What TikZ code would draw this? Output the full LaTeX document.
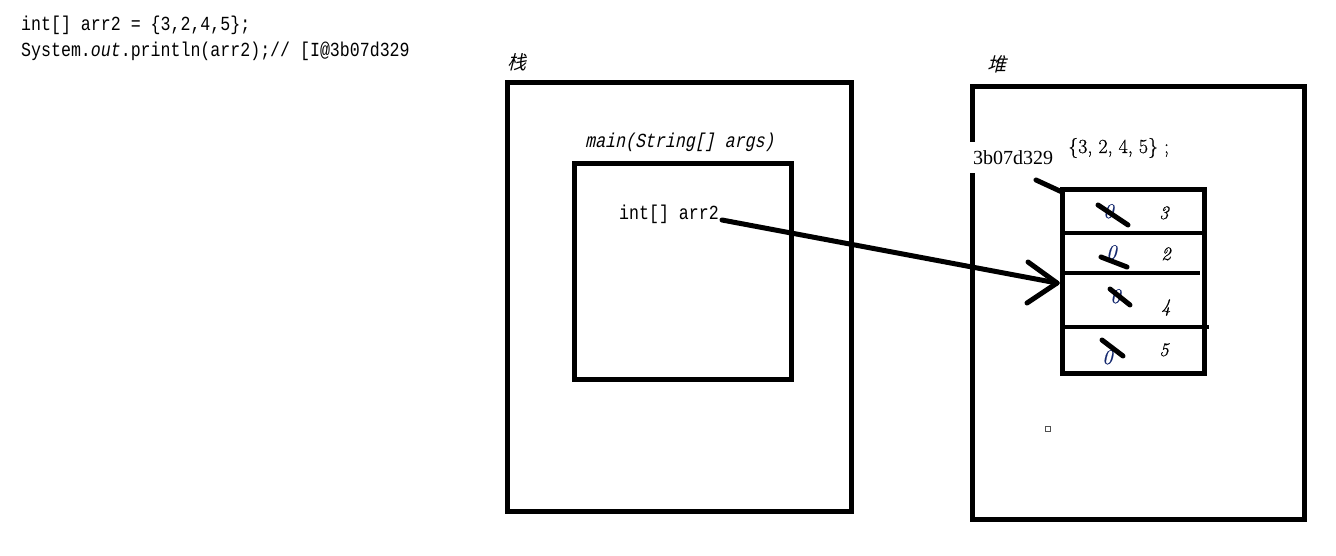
\documentclass[tikz,border=0pt]{standalone}
\usepackage{fontspec}
\setmainfont{Liberation Serif}
\newfontfamily\codefont[FakeStretch=0.83]{Liberation Mono}
\newfontfamily\codeitfont[FakeStretch=0.83,FakeSlant=0.22]{Liberation Mono}
\newfontfamily\cjkfont[FakeSlant=0.25]{Noto Sans CJK SC}
\newfontfamily\lmit[FakeBold=0.6]{Latin Modern Roman}
\begin{document}
\begin{tikzpicture}[x=1pt,y=-1pt,
  thick box/.style={draw=black,line width=5pt},
  codetxt/.style={inner sep=0pt,anchor=base west,font=\codefont\fontsize{20}{24}\selectfont},
  codeit/.style={inner sep=0pt,anchor=base west,font=\codeitfont\fontsize{20}{24}\selectfont},
  cjk/.style={inner sep=0pt,anchor=north west,font=\cjkfont\fontsize{19}{22}\selectfont},
  cellnum/.style={inner sep=0pt,anchor=base west,font=\lmit\itshape\fontsize{19}{22}\selectfont},
  zero/.style={inner sep=0pt,anchor=base west,font=\lmit\itshape\fontsize{21}{24}\selectfont,text={rgb,255:red,20;green,40;blue,110}},
  strike/.style={line width=5pt,line cap=round},
  conn/.style={line width=5pt,line cap=round}]
\useasboundingbox (0,0) rectangle (1336,556);
% code text
\node[codetxt] (l1) at (21,31) {int[] arr2 = \{3,2,4,5\};};
\node[codetxt] (l2) at (21,57) {System.\textit{out}.println(arr2);// [I@3b07d329};
% stack
\node[cjk] (zhan) at (507,53) {栈};
\draw[thick box] (507,83) rectangle (851,511);
\node[codeit] (main) at (585,148) {main(String[] args)};
\draw[thick box] (574,164) rectangle (791,379);
\node[codetxt] (arr2) at (619,220) {int[] arr2};
% heap
\node[cjk] (dui) at (987,55) {堆};
\draw[thick box] (972,87) rectangle (1304,519);
\node[fill=white,inner sep=0pt,minimum height=31pt,anchor=west,text width=83pt,align=left,font=\fontsize{20}{24}\selectfont] (addr) at (970,157.5) {\hspace{3pt}3b07d329};
\node[inner sep=0pt,anchor=base west,font=\lmit\fontsize{20}{24}\selectfont] (vals) at (1068,153) {\{3, 2, 4, 5\} ;};
% array
\draw[thick box] (1062,190) rectangle (1204,373);
\draw[line width=4pt] (1062,233) -- (1204,233);
\draw[line width=4pt] (1065,273) -- (1200,273);
\draw[line width=4pt] (1062,327) -- (1209,327);
\coordinate (arrtop) at (1062,192);
\draw[conn] (1036,180) -- (arrtop);
% cells
\node[zero] (z1) at (1103,218) {0};
\node[zero] (z2) at (1106,259) {0};
\node[zero] (z3) at (1110,303) {0};
\node[zero] (z4) at (1102,364) {0};
\node[cellnum] (n1) at (1159,219) {3};
\node[cellnum] (n2) at (1161,260) {2};
\node[cellnum] (n3) at (1161,312) {4};
\node[cellnum] (n4) at (1159,356) {5};
\draw[strike] (1098,205) -- (1128,225);
\draw[strike] (1101,257) -- (1127,267);
\draw[strike] (1110,289) -- (1130,305);
\draw[strike] (1102,340) -- (1123,356);
% arrow
\coordinate (tip) at (1057,283);
\coordinate (start) at (722,220);
\draw[conn] (start) -- (tip);
\draw[conn] (tip) -- +(-29,-21);
\draw[conn] (tip) -- +(-30,20);
% small square
\draw[draw={rgb,255:red,80;green,80;blue,80},line width=1pt] (1045,426) rectangle (1050,431);
\end{tikzpicture}
\end{document}
